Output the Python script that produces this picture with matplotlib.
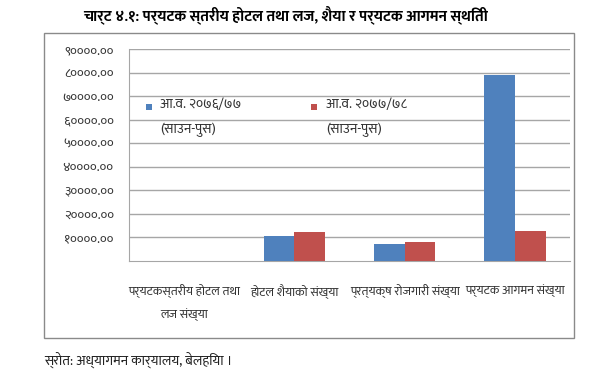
import matplotlib
matplotlib.use("Agg")
import matplotlib.pyplot as plt
from matplotlib.patches import Rectangle
from matplotlib.legend_handler import HandlerPatch, update_from_first_child
from matplotlib.container import BarContainer
import numpy as np

# ---- data ----
categories = ["पर्यटकस्तरीय होटल तथा\nलज संख्या", "होटल शैयाको संख्या",
              "प्रत्यक्ष रोजगारी संख्या", "पर्यटक आगमन संख्या"]
series_names = ["आ.व. २०७६/७७\n(साउन-पुस)", "आ.व. २०७७/७८\n(साउन-पुस)"]
values_7677 = [0, 10600, 7000, 79200]
values_7778 = [0, 12100, 7800, 12500]
yticks = [10000, 20000, 30000, 40000, 50000, 60000, 70000, 80000, 90000]
ytick_labels = ["१००००.००", "२००००.००", "३००००.००", "४००००.००", "५००००.००",
                "६००००.००", "७००००.००", "८००००.००", "९००००.००"]
title = "चार्ट ४.१: पर्यटक स्तरीय होटल तथा लज, शैया र पर्यटक आगमन स्थिती"
source = "स्रोत: अध्यागमन कार्यालय, बेलहिया ।"

DEV = ["Mukta", "Hind", "Noto Sans Devanagari", "DejaVu Sans"]
plt.rcParams["font.family"] = DEV

fig = plt.figure(figsize=(6.13, 3.75), dpi=100)
fig.patch.set_facecolor("white")

# outer chart frame
fig.add_artist(Rectangle((44 / 613, 37 / 375), 530 / 613, 305 / 375,
                         transform=fig.transFigure, fill=False,
                         edgecolor="#8a8a8a", linewidth=1.0))

ax = fig.add_axes([129 / 613, 114.3 / 375, 441 / 613, 211.4 / 375])
x = np.arange(len(categories))
w = 0.28
ax.bar(x - w / 2, values_7677, w, color="#4F81BD", label=series_names[0], zorder=3)
ax.bar(x + w / 2, values_7778, w, color="#C0504D", label=series_names[1], zorder=3)

ax.set_xlim(-0.5, len(categories) - 0.5)
ax.set_ylim(0, 90000)
ax.set_yticks(yticks)
ax.set_yticklabels(ytick_labels, fontsize=9.5, color="#333333")
ax.set_xticks(x)
ax.set_xticklabels(categories, fontsize=9, color="#333333", linespacing=1.95)
ax.tick_params(axis="both", length=0)
ax.tick_params(axis="y", pad=11)
ax.tick_params(axis="x", pad=17)
ax.grid(axis="y", color="#a6a6a6", linewidth=1.0, zorder=0)
for s in ["top", "right"]:
    ax.spines[s].set_visible(False)
ax.spines["left"].set_color("#a6a6a6")
ax.spines["bottom"].set_color("#a6a6a6")


def top_square(legend, orig_handle, xdescent, ydescent, width, height, fontsize):
    s = 0.45 * fontsize
    return Rectangle((-xdescent + width - s - 1.5, -ydescent + height - s * 0.85), s, s)


leg = ax.legend(ncol=2, loc="upper left", bbox_to_anchor=(0.01, 0.83),
                frameon=False, fontsize=10, handlelength=0.6, handleheight=2.6,
                columnspacing=5.0, handletextpad=0.45, labelcolor="#333333",
                handler_map={BarContainer: HandlerPatch(
                    patch_func=top_square, update_func=update_from_first_child)})
for t in leg.get_texts():
    t.set_linespacing(2.1)

fig.text(286 / 613, 1 - 15 / 375, title, ha="center", va="center",
         fontsize=11, fontweight="bold", family=DEV)
fig.text(44 / 613, 1 - 360 / 375, source, ha="left", va="center",
         fontsize=10, family=DEV, color="#222222")

fig.savefig("out.png", dpi=100, facecolor="white")
